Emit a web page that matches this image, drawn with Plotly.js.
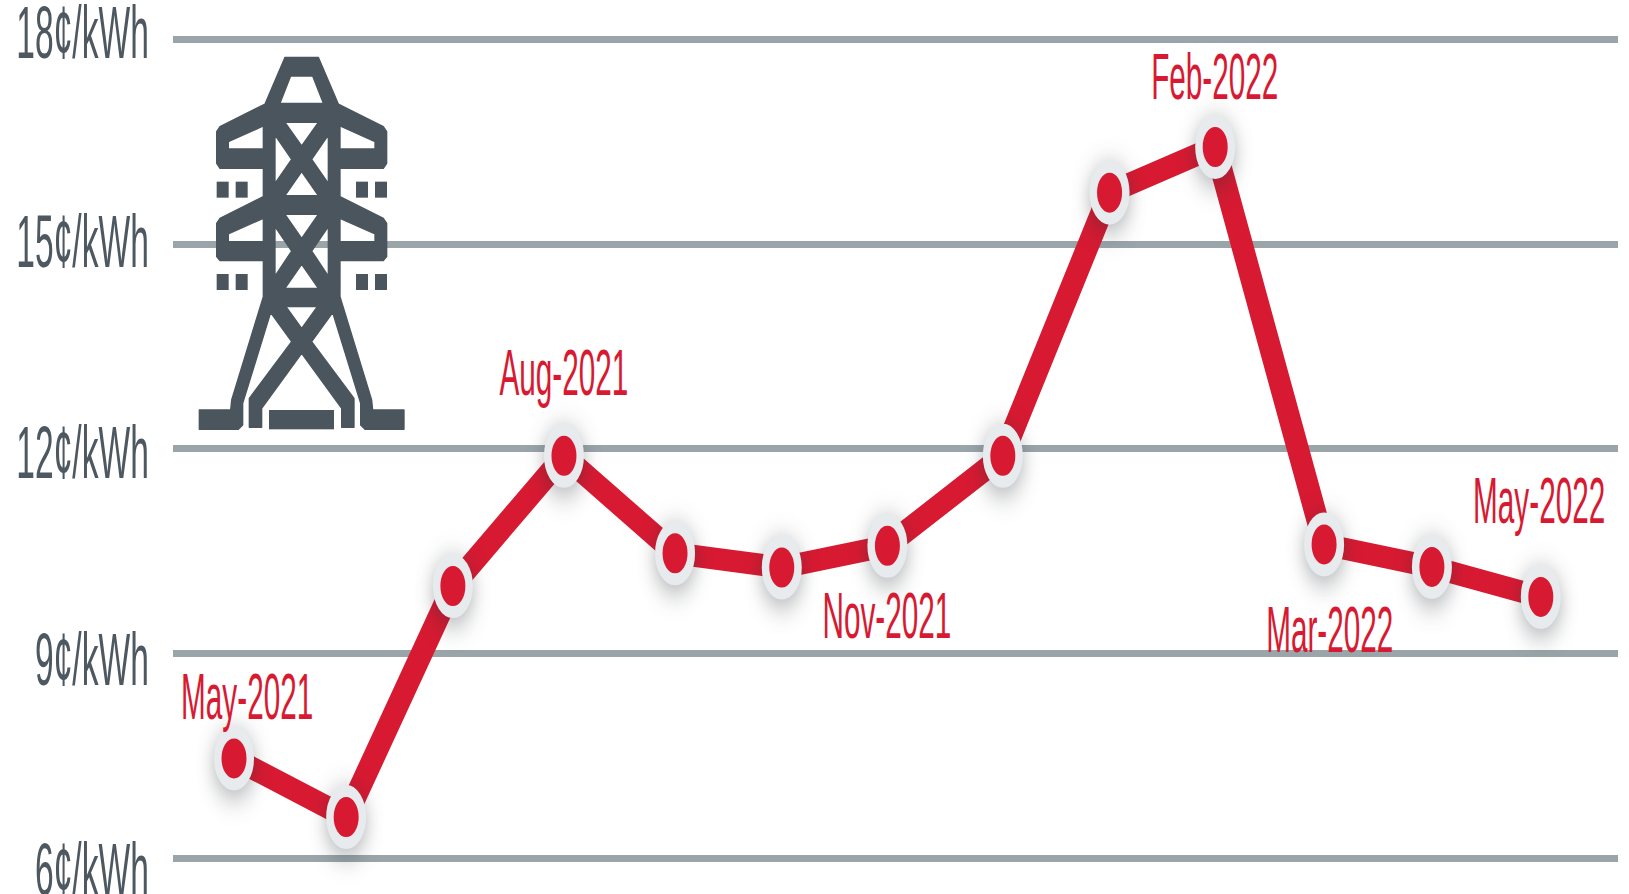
<!DOCTYPE html>
<html>
<head>
<meta charset="utf-8">
<script src="https://cdn.plot.ly/plotly-3.0.1.min.js"></script>
<style>
html,body{margin:0;padding:0;background:#fff;overflow:hidden;width:1629px;height:894px}
#chart{width:1629px;height:894px}
</style>
</head>
<body>
<div id="chart"></div>
<script>
// Month position along the axis, months since May-2021
const monthPos = [0, 1.03, 2.01, 3.03, 4.05, 5.03, 6.0, 7.06, 8.04, 9.01, 10.01, 11.0, 12];
const priceCents = [7.46, 6.6, 9.99, 11.9, 10.47, 10.26, 10.58, 11.9, 15.76, 16.43, 10.6, 10.27, 9.83];
const tickValues = [6, 9, 12, 15, 18];
const tickLabels = ['6¢/kWh', '9¢/kWh', '12¢/kWh', '15¢/kWh', '18¢/kWh'];
const labelPoints = [0, 3, 6, 9, 10, 12];
const labelTexts = ['May-2021', 'Aug-2021', 'Nov-2021', 'Feb-2022', 'Mar-2022', 'May-2022'];

const RED = '#d71a32', SLATE = '#4d5860', GRID = '#9aa5aa', RING = '#e8ebee';
const TOWER = '#4a555d';
const FONT = '"Liberation Sans Narrow","Liberation Sans",sans-serif';
const labelShiftX = [13, 0, 0, 0, 5, -2];
const labelShiftY = [61, 83, -70, 70, -86, 96];
const tickNudge = [11, 6, 3, -3, -8];
const TICK_X = 0.73, LABEL_X = 0.725, TEXT_Y = 1.6, MARKER_Y = 1.6;

const tower = 'M345,82 L445,82 L505,222 L640,290 L650,305 L650,400 L640,415 L510,415 L510,500 L640,565 L650,580 L650,680 L640,692 L510,692 L510,800 L605,1110 L608,1140 L702,1140 L702,1198 L585,1198 L572,1185 L572,1120 L488,848 L425,935 L552,1105 L552,1192 L515,1192 L515,1135 L395,970 L275,1135 L275,1192 L238,1192 L238,1105 L365,935 L302,848 L218,1120 L218,1185 L205,1198 L88,1198 L88,1140 L182,1140 L185,1110 L280,800 L280,692 L150,692 L140,680 L140,580 L150,565 L280,500 L280,415 L150,415 L140,400 L140,305 L150,290 L285,222 Z '
 + 'M362,138 L428,138 L460,220 L330,220 Z '
 + 'M345,277 L445,277 L395,348 Z M315,315 L365,388 L315,460 Z M475,315 L425,388 L475,460 Z M395,425 L345,497 L445,497 Z '
 + 'M345,553 L445,553 L395,625 Z M315,590 L365,663 L315,738 Z M475,590 L425,663 L475,738 Z M395,703 L345,775 L445,775 Z '
 + 'M348,830 L442,830 L395,895 Z '
 + 'M280,288 L175,335 L175,357 L280,357 Z M510,288 L615,335 L615,357 L510,357 Z '
 + 'M280,565 L175,612 L175,635 L280,635 Z M510,565 L615,612 L615,635 L510,635 Z';
const blocks = [[297,1140,195,58],[140,455,36,48],[197,455,36,48],[558,455,36,48],[615,455,36,48],[140,732,36,48],[197,732,36,48],[558,732,36,48],[615,732,36,48]]
  .map(b => `<rect x="${b[0]}" y="${b[1]}" width="${b[2]}" height="${b[3]}"/>`).join('');
const towerSvg = `<svg xmlns="http://www.w3.org/2000/svg" width="780" height="1260" viewBox="0 0 780 1260" preserveAspectRatio="none"><g fill="${TOWER}"><path fill-rule="evenodd" stroke="${TOWER}" stroke-width="4" stroke-linejoin="round" d="${tower}"/>${blocks}</g></svg>`;

const W = 1629, H = 894;
const plotL = 173, plotR = 1618;
const x0px = 234, pxPerMonth = 108.9;
const y6px = 858, pxPerCent = 68.17;

const trace = {
  x: monthPos, y: priceCents, type: 'scatter', mode: 'lines+markers',
  line: {color: RED, width: 22, shape: 'linear'},
  marker: {size: 32.5, color: RED, line: {color: RING, width: 7.5}},
  cliponaxis: false, hoverinfo: 'skip'
};

const layout = {
  width: W, height: H, autosize: false,
  paper_bgcolor: '#fff', plot_bgcolor: '#fff', showlegend: false,
  margin: {l: plotL, r: W - plotR, t: 0, b: 0, pad: 0},
  xaxis: {
    range: [(plotL - x0px) / pxPerMonth, (plotR - x0px) / pxPerMonth],
    showgrid: false, zeroline: false, showticklabels: false, ticks: '', showline: false, fixedrange: true
  },
  yaxis: {
    range: [6 - (H - y6px) / pxPerCent, 6 + y6px / pxPerCent],
    tickmode: 'array', tickvals: tickValues, ticktext: tickLabels,
    ticks: 'outside', ticklen: 14, tickcolor: 'rgba(0,0,0,0)', tickwidth: 1,
    ticklabeloverflow: 'allow',
    tickfont: {family: FONT, size: 46, color: SLATE},
    showgrid: true, gridcolor: GRID, gridwidth: 7, zeroline: false, showline: false, fixedrange: true
  },
  images: [{
    source: 'data:image/svg+xml;charset=utf-8,' + encodeURIComponent(towerSvg),
    xref: 'paper', yref: 'paper', sizing: 'stretch', layer: 'above',
    x: (170 - plotL) / (plotR - plotL), y: 1 - 30 / H,
    sizex: 260 / (plotR - plotL), sizey: 420 / H,
    xanchor: 'left', yanchor: 'top'
  }],
  annotations: labelPoints.map((p, i) => ({
    x: monthPos[p], y: priceCents[p], xref: 'x', yref: 'y',
    text: labelTexts[i], showarrow: false, xanchor: 'center', yanchor: 'middle',
    xshift: labelShiftX[i], yshift: labelShiftY[i],
    font: {family: FONT, size: 41, color: RED}
  }))
};

function reshapeText(el, anchor, sx, dy) {
  const b = el.getBBox();
  const cx = anchor === 'right' ? b.x + b.width : b.x + b.width / 2;
  const cy = b.y + b.height / 2;
  const prev = el.getAttribute('transform') || '';
  el.setAttribute('transform', `${prev} translate(${cx},${cy + dy}) scale(${sx},${TEXT_Y}) translate(${-cx},${-cy})`);
}

Plotly.newPlot('chart', [trace], layout, {displayModeBar: false, staticPlot: true}).then(() => {
  document.querySelectorAll('#chart .scatterlayer .points path').forEach(p => {
    const prev = p.getAttribute('transform') || '';
    p.setAttribute('transform', `${prev} scale(1,${MARKER_Y})`);
    p.style.filter = 'drop-shadow(0px 4px 9px rgba(40,45,50,0.4))';
  });
  document.querySelectorAll('#chart .ytick text').forEach((t, i) => {
    const k = tickLabels.indexOf(t.textContent);
    reshapeText(t, 'right', TICK_X, tickNudge[k >= 0 ? k : i]);
  });
  document.querySelectorAll('#chart .annotation-text').forEach(t => reshapeText(t, 'center', LABEL_X, 0));
});
</script>
</body>
</html>
